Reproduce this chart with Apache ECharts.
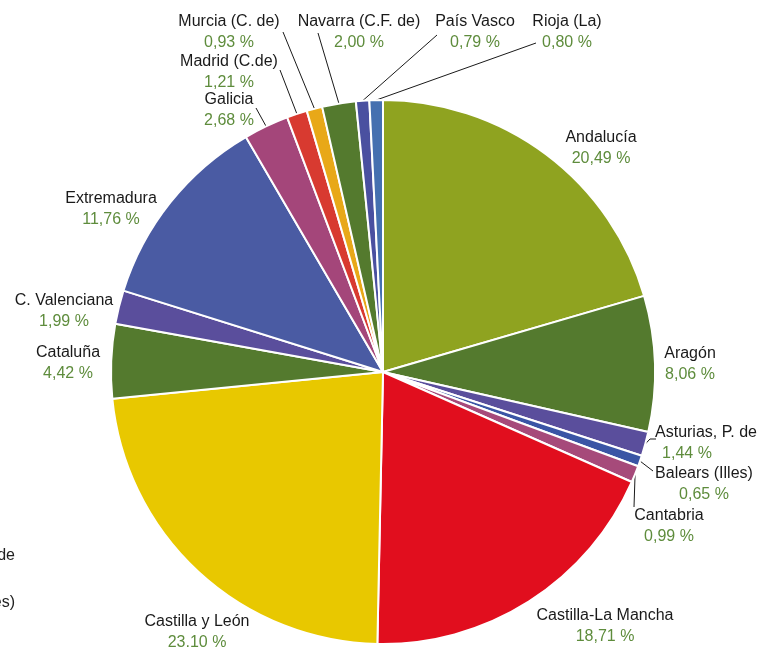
<!DOCTYPE html>
<html>
<head>
<meta charset="utf-8">
<script src="https://cdn.jsdelivr.net/npm/echarts@6/dist/echarts.min.js"></script>
<style>
html,body{margin:0;padding:0;background:#fff;}
#main{width:758px;height:647px;}
</style>
</head>
<body>
<div id="main"></div>
<script>
const categories = ['Andalucía','Aragón','Asturias, P. de','Balears (Illes)','Cantabria','Castilla-La Mancha','Castilla y León','Cataluña','C. Valenciana','Extremadura','Galicia','Madrid (C.de)','Murcia (C. de)','Navarra (C.F. de)','País Vasco','Rioja (La)'];
const values = [20.49, 8.06, 1.44, 0.65, 0.99, 18.71, 23.10, 4.42, 1.99, 11.76, 2.68, 1.21, 0.93, 2.00, 0.79, 0.80];
const colors = ['#8fa320','#547a2e','#5a4e9c','#3a55a5','#a64a7a','#e10e1e','#e8c800','#547a2e','#5a4e9c','#4a5ba3','#a4467a','#d83a30','#e8a818','#547a2e','#4a50a0','#4570b0'];
// label placement: [x center, y middle, line end points or null]
const labelPlace = [
  [601,148,null],
  [690,364,null],
  [706,443,[[650,439],[656,439]]],
  [704,484,[[653,471]]],
  [669,526,[[634,507]]],
  [605,626,null],
  [197,632,null],
  [68,363,null],
  [64,311,null],
  [111,209,null],
  [229,110,[[256,108]]],
  [229,72,[[280,70]]],
  [229,32,[[283,32]]],
  [359,32,[[318,33]]],
  [475,32,[[437,35]]],
  [567,32,[[536,43]]]
];
const fmt = v => v.toFixed(2).replace('.', ',') + ' %';

const data = categories.map((n, i) => ({
  name: n,
  value: values[i],
  itemStyle: {color: colors[i]},
  labelLine: {show: labelPlace[i][2] != null}
}));

const chart = echarts.init(document.getElementById('main'), null, {renderer: 'canvas'});
chart.setOption({
  animation: false,
  backgroundColor: '#fff',
  graphic: [
    {type: 'text', right: 743, top: 548, style: {text: 'de', font: '16px "Liberation Sans", Arial, sans-serif', fill: '#222', textAlign: 'right'}},
    {type: 'text', right: 743, top: 595, style: {text: 'es)', font: '16px "Liberation Sans", Arial, sans-serif', fill: '#222', textAlign: 'right'}}
  ],
  series: [{
    type: 'pie',
    center: [383, 372],
    radius: [0, 272],
    startAngle: 90,
    clockwise: true,
    avoidLabelOverlap: false,
    itemStyle: {borderColor: '#fff', borderWidth: 2},
    label: {
      show: true,
      position: 'outside',
      formatter: p => {
        if (p.dataIndex === 2) return '{n|' + p.name + '}\n{v2|' + fmt(p.value) + '}';
        return '{n|' + p.name + '}\n{v|' + fmt(p.value) + '}';
      },
      rich: {
        n: {fontFamily: '"Liberation Sans", Arial, sans-serif', fontSize: 16, color: '#1a1a1a', lineHeight: 21, align: 'center'},
        v: {fontFamily: '"Liberation Sans", Arial, sans-serif', fontSize: 16, color: '#5e8c3c', lineHeight: 21, align: 'center'},
        v2: {fontFamily: '"Liberation Sans", Arial, sans-serif', fontSize: 16, color: '#5e8c3c', lineHeight: 21, align: 'center', padding: [0, 38, 0, 0]}
      }
    },
    labelLine: {show: true, lineStyle: {color: '#1a1a1a', width: 1}, length: 10, length2: 10},
    labelLayout: function (params) {
      const pl = labelPlace[params.dataIndex];
      const out = {x: pl[0], y: pl[1], align: 'center', verticalAlign: 'middle'};
      if (pl[2] && params.labelLinePoints) {
        out.labelLinePoints = [params.labelLinePoints[0]].concat(pl[2]);
      }
      return out;
    },
    data: data
  }]
});
</script>
</body>
</html>
